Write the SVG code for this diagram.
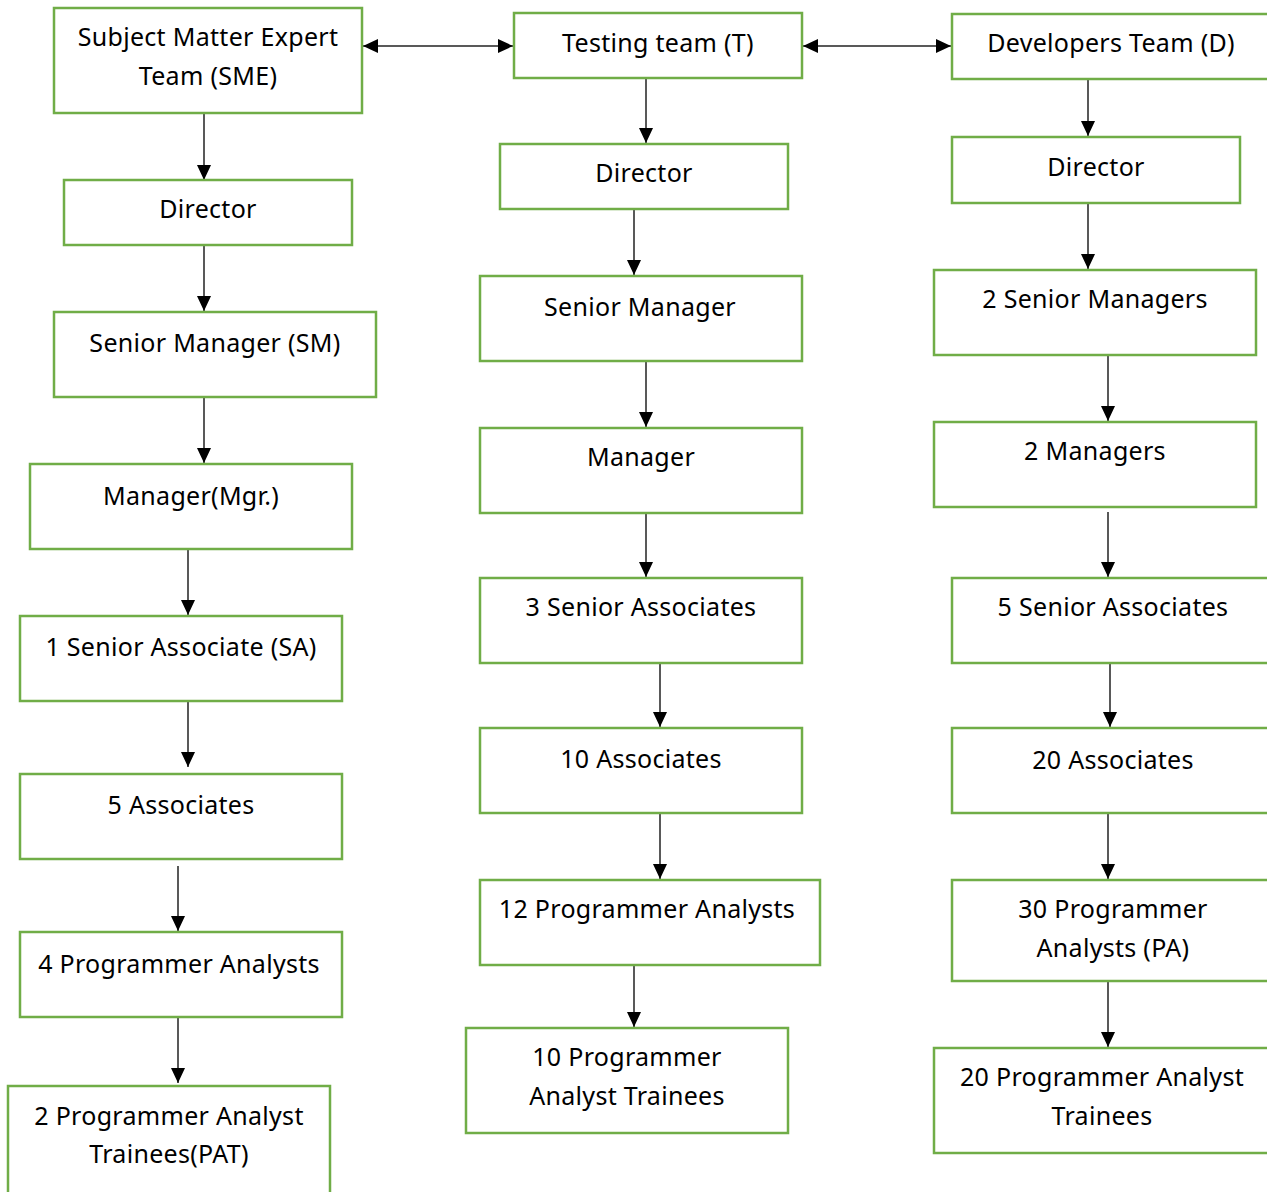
<svg xmlns="http://www.w3.org/2000/svg" width="1267" height="1192" viewBox="0 0 1267 1192">
<style>
.box{fill:#fff;stroke:#70AD47;stroke-width:2.5}
.t{font-family:"Noto Sans","Open Sans",sans-serif;font-size:25px;letter-spacing:0.3px;fill:#000;text-anchor:middle}
.c{stroke:#222;stroke-width:1.5;fill:none;marker-end:url(#ah)}
.d{stroke:#222;stroke-width:1.5;fill:none;marker-end:url(#ah);marker-start:url(#ah)}
</style>
<defs>
<marker id="ah" markerUnits="userSpaceOnUse" markerWidth="15" markerHeight="15" refX="15" refY="7.5" orient="auto-start-reverse" viewBox="0 0 15 15">
<path d="M0,0.5 L15,7.5 L0,14.5 z" fill="#000"/>
</marker>
</defs>
<rect width="1267" height="1192" fill="#fff"/>

<g id="connectors">
<path class="d" d="M363,46 H513"/>
<path class="d" d="M803,46 H951"/>
<path class="c" d="M204,114 V180"/>
<path class="c" d="M204,246 V311"/>
<path class="c" d="M204,398 V463"/>
<path class="c" d="M188,550 V615"/>
<path class="c" d="M188,702 V767"/>
<path class="c" d="M178,866 V931"/>
<path class="c" d="M178,1018 V1083"/>
<path class="c" d="M646,78 V143"/>
<path class="c" d="M634,210 V275"/>
<path class="c" d="M646,362 V427"/>
<path class="c" d="M646,513 V577"/>
<path class="c" d="M660,664 V727"/>
<path class="c" d="M660,814 V879"/>
<path class="c" d="M634,962 V1027"/>
<path class="c" d="M1088,72 V136"/>
<path class="c" d="M1088,204 V269"/>
<path class="c" d="M1108,356 V421"/>
<path class="c" d="M1108,512 V577"/>
<path class="c" d="M1110,664 V727"/>
<path class="c" d="M1108,814 V879"/>
<path class="c" d="M1108,982 V1047"/>
</g>

<g id="sme"><rect class="box" x="54" y="8" width="308" height="105"/><text class="t" x="208" y="46">Subject Matter Expert</text><text class="t" x="208" y="85">Team (SME)</text></g>
<g id="sme-director"><rect class="box" x="64" y="180" width="288" height="65"/><text class="t" x="208" y="218">Director</text></g>
<g id="sme-sm"><rect class="box" x="54" y="312" width="322" height="85"/><text class="t" x="215" y="352">Senior Manager (SM)</text></g>
<g id="sme-mgr"><rect class="box" x="30" y="464" width="322" height="85"/><text class="t" x="191" y="505">Manager(Mgr.)</text></g>
<g id="sme-sa"><rect class="box" x="20" y="616" width="322" height="85"/><text class="t" x="181" y="656">1 Senior Associate (SA)</text></g>
<g id="sme-assoc"><rect class="box" x="20" y="774" width="322" height="85"/><text class="t" x="181" y="814">5 Associates</text></g>
<g id="sme-pa"><rect class="box" x="20" y="932" width="322" height="85"/><text class="t" x="179" y="973">4 Programmer Analysts</text></g>
<g id="sme-pat"><rect class="box" x="8" y="1086" width="322" height="120"/><text class="t" x="169" y="1125">2 Programmer Analyst</text><text class="t" x="169" y="1163">Trainees(PAT)</text></g>

<g id="testing"><rect class="box" x="514" y="13" width="288" height="65"/><text class="t" x="658" y="52">Testing team (T)</text></g>
<g id="t-director"><rect class="box" x="500" y="144" width="288" height="65"/><text class="t" x="644" y="182">Director</text></g>
<g id="t-sm"><rect class="box" x="480" y="276" width="322" height="85"/><text class="t" x="640" y="316">Senior Manager</text></g>
<g id="t-mgr"><rect class="box" x="480" y="428" width="322" height="85"/><text class="t" x="641" y="466">Manager</text></g>
<g id="t-sa"><rect class="box" x="480" y="578" width="322" height="85"/><text class="t" x="641" y="616">3 Senior Associates</text></g>
<g id="t-assoc"><rect class="box" x="480" y="728" width="322" height="85"/><text class="t" x="641" y="768">10 Associates</text></g>
<g id="t-pa"><rect class="box" x="480" y="880" width="340" height="85"/><text class="t" x="647" y="918">12 Programmer Analysts</text></g>
<g id="t-pat"><rect class="box" x="466" y="1028" width="322" height="105"/><text class="t" x="627" y="1066">10 Programmer</text><text class="t" x="627" y="1105">Analyst Trainees</text></g>

<g id="developers"><rect class="box" x="952" y="14" width="330" height="65"/><text class="t" x="1111" y="52">Developers Team (D)</text></g>
<g id="d-director"><rect class="box" x="952" y="137" width="288" height="66"/><text class="t" x="1096" y="176">Director</text></g>
<g id="d-sm"><rect class="box" x="934" y="270" width="322" height="85"/><text class="t" x="1095" y="308">2 Senior Managers</text></g>
<g id="d-mgr"><rect class="box" x="934" y="422" width="322" height="85"/><text class="t" x="1095" y="460">2 Managers</text></g>
<g id="d-sa"><rect class="box" x="952" y="578" width="330" height="85"/><text class="t" x="1113" y="616">5 Senior Associates</text></g>
<g id="d-assoc"><rect class="box" x="952" y="728" width="330" height="85"/><text class="t" x="1113" y="769">20 Associates</text></g>
<g id="d-pa"><rect class="box" x="952" y="880" width="330" height="101"/><text class="t" x="1113" y="918">30 Programmer</text><text class="t" x="1113" y="957">Analysts (PA)</text></g>
<g id="d-pat"><rect class="box" x="934" y="1048" width="348" height="105"/><text class="t" x="1102" y="1086">20 Programmer Analyst</text><text class="t" x="1102" y="1125">Trainees</text></g>
</svg>
